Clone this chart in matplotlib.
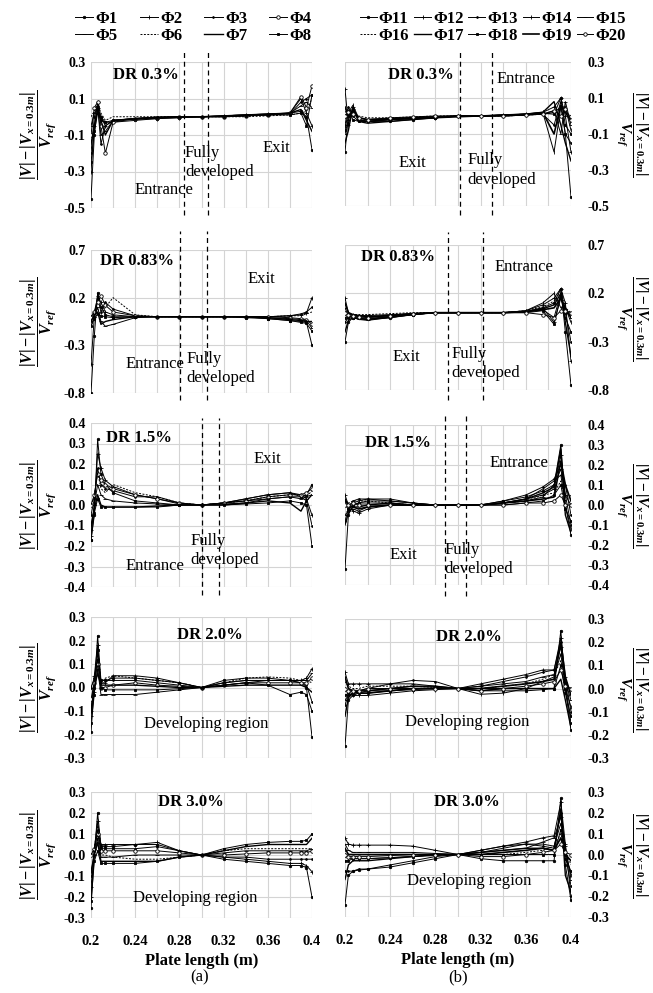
import matplotlib
matplotlib.use("Agg")
import matplotlib.pyplot as plt
from matplotlib.ticker import FixedLocator, FormatStrFormatter

plt.rcParams["font.family"] = ["Liberation Serif", "DejaVu Serif"]
plt.rcParams["axes.unicode_minus"] = False
plt.rcParams["mathtext.fontset"] = "custom"
plt.rcParams["mathtext.rm"] = "Liberation Serif:bold"
plt.rcParams["mathtext.it"] = "Liberation Serif:italic:bold"
plt.rcParams["mathtext.bf"] = "Liberation Serif:bold"

# ---------------------------------------------------------------- data
# sampling positions along the plate (m)
x_left = [0.200, 0.203, 0.206, 0.209, 0.213, 0.220, 0.240, 0.260, 0.280,
          0.300, 0.320, 0.340, 0.360, 0.380, 0.390, 0.395, 0.400]
x_right = [0.200, 0.203, 0.207, 0.212, 0.220, 0.240, 0.260, 0.280, 0.300,
           0.320, 0.340, 0.360, 0.375, 0.385, 0.391, 0.395, 0.400]

labels_left = ["Φ1", "Φ2", "Φ3", "Φ4", "Φ5", "Φ6", "Φ7", "Φ8"]
labels_right = ["Φ11", "Φ12", "Φ13", "Φ14", "Φ15",
                "Φ16", "Φ17", "Φ18", "Φ19", "Φ20"]
dr_labels = ["DR 0.3%", "DR 0.83%", "DR 1.5%", "DR 2.0%", "DR 3.0%"]

# (|V| - |V_x=0.3m|) / V_ref, left column (Φ1..Φ8)
left_dr03 = [
    [-0.45, -0.10, 0.05, -0.02, -0.03, -0.03, -0.02, -0.01, -0.005, 0.0, 0.005, 0.01, 0.015, 0.02, 0.03, 0.00, -0.18],
    [-0.30, -0.05, 0.08, 0.00, -0.05, -0.02, -0.015, -0.01, -0.005, 0.0, 0.005, 0.01, 0.015, 0.02, 0.10, 0.02, -0.05],
    [-0.20, 0.00, 0.06, -0.15, -0.05, -0.02, -0.01, -0.005, 0.0, 0.0, 0.0, 0.005, 0.01, 0.015, 0.08, 0.10, 0.12],
    [-0.10, 0.05, 0.08, -0.05, -0.20, -0.03, -0.01, -0.005, 0.0, 0.0, 0.0, 0.005, 0.01, 0.02, 0.11, 0.05, 0.17],
    [-0.05, 0.02, 0.05, -0.10, -0.08, -0.02, -0.01, 0.0, 0.0, 0.0, 0.005, 0.01, 0.01, 0.02, 0.06, 0.08, 0.05],
    [0.00, 0.03, 0.07, 0.02, -0.02, 0.00, 0.00, 0.0, 0.0, 0.0, 0.0, 0.0, 0.005, 0.01, 0.02, 0.03, 0.10],
    [-0.15, -0.05, 0.04, -0.02, -0.10, -0.02, -0.01, -0.005, 0.0, 0.0, 0.005, 0.01, 0.015, 0.02, 0.04, -0.02, -0.08],
    [-0.25, -0.08, 0.02, 0.00, -0.03, -0.02, -0.01, -0.005, 0.0, 0.0, 0.0, 0.005, 0.01, 0.01, 0.02, -0.05, 0.12],
]
left_dr083 = [
    [-0.80, -0.20, 0.25, 0.10, 0.02, 0.00, 0.0, 0.0, 0.0, 0.0, 0.0, 0.0, -0.02, -0.04, -0.05, -0.06, -0.30],
    [-0.50, 0.00, 0.22, 0.15, 0.05, 0.02, 0.0, 0.0, 0.0, 0.0, 0.0, 0.0, 0.0, 0.01, 0.02, 0.04, 0.20],
    [-0.05, 0.05, 0.20, 0.05, 0.15, 0.08, 0.01, 0.0, 0.0, 0.0, 0.0, 0.0, 0.0, 0.01, 0.03, 0.05, 0.10],
    [0.00, 0.05, 0.15, 0.22, 0.12, 0.05, 0.01, 0.0, 0.0, 0.0, 0.0, 0.0, 0.0, -0.01, -0.02, -0.03, -0.08],
    [-0.10, 0.00, 0.10, -0.05, -0.10, -0.08, -0.01, 0.0, 0.0, 0.0, 0.0, 0.0, -0.01, -0.02, -0.03, -0.04, -0.12],
    [0.00, 0.05, 0.08, 0.02, 0.10, 0.20, 0.02, 0.0, 0.0, 0.0, 0.0, 0.0, 0.0, 0.01, 0.01, 0.03, 0.05],
    [-0.05, 0.02, 0.05, -0.08, -0.05, -0.03, 0.0, 0.0, 0.0, 0.0, 0.0, 0.0, -0.01, -0.03, -0.04, -0.05, -0.05],
    [-0.10, -0.02, 0.03, 0.01, 0.00, -0.01, 0.0, 0.0, 0.0, 0.0, 0.0, -0.01, -0.02, -0.04, -0.06, -0.07, -0.15],
]
left_dr15 = [
    [-0.17, -0.05, 0.32, 0.15, 0.10, 0.06, 0.02, 0.01, 0.0, 0.0, 0.01, 0.02, 0.03, 0.04, 0.04, 0.05, 0.10],
    [-0.12, 0.00, 0.25, 0.18, 0.12, 0.09, 0.05, 0.03, 0.005, 0.0, 0.01, 0.03, 0.05, 0.06, 0.05, 0.03, -0.05],
    [-0.05, 0.03, 0.18, 0.10, 0.08, 0.07, 0.04, 0.04, 0.01, 0.0, 0.01, 0.03, 0.05, 0.06, 0.04, 0.02, -0.10],
    [0.00, 0.05, 0.15, 0.12, 0.10, 0.08, 0.05, 0.03, 0.01, 0.0, 0.01, 0.02, 0.04, 0.05, 0.05, 0.06, 0.08],
    [-0.15, 0.00, 0.10, 0.05, 0.03, 0.02, 0.01, 0.005, 0.0, 0.0, 0.005, 0.01, 0.03, 0.04, 0.03, 0.04, 0.05],
    [0.00, 0.04, 0.16, 0.08, 0.06, 0.10, 0.06, 0.04, 0.01, 0.0, 0.01, 0.02, 0.04, 0.05, 0.05, 0.04, 0.07],
    [-0.10, -0.02, 0.05, 0.00, -0.01, -0.01, -0.01, -0.005, 0.0, 0.0, 0.0, 0.01, 0.02, 0.01, -0.03, 0.02, 0.05],
    [-0.17, -0.04, 0.03, -0.01, -0.01, -0.01, -0.01, -0.01, 0.0, 0.0, 0.0, 0.005, 0.01, 0.02, 0.01, 0.00, -0.20],
]
left_dr20 = [
    [-0.19, 0.00, 0.22, 0.03, 0.03, 0.04, 0.04, 0.03, 0.02, 0.0, 0.03, 0.04, 0.04, 0.03, 0.02, 0.00, -0.21],
    [-0.10, 0.05, 0.18, 0.02, 0.02, 0.05, 0.05, 0.04, 0.02, 0.0, 0.02, 0.03, 0.03, 0.03, 0.03, 0.04, 0.08],
    [0.00, 0.04, 0.12, 0.03, 0.03, 0.03, 0.03, 0.02, 0.01, 0.0, 0.02, 0.03, 0.03, 0.03, 0.02, 0.01, -0.06],
    [-0.05, 0.02, 0.10, 0.00, 0.00, 0.01, 0.02, 0.01, 0.005, 0.0, 0.01, 0.02, 0.02, 0.02, 0.02, 0.02, 0.04],
    [-0.12, -0.02, 0.08, -0.03, -0.03, -0.03, -0.03, -0.02, -0.01, 0.0, 0.01, 0.02, 0.03, 0.03, 0.03, 0.03, 0.06],
    [0.00, 0.03, 0.14, 0.02, 0.04, 0.05, 0.04, 0.03, 0.02, 0.0, 0.02, 0.04, 0.045, 0.04, 0.03, 0.03, 0.02],
    [-0.10, 0.00, 0.06, 0.01, 0.01, 0.01, 0.01, 0.005, 0.0, 0.0, 0.005, 0.01, 0.01, 0.01, 0.01, 0.00, -0.02],
    [-0.15, -0.03, 0.16, 0.00, -0.01, -0.01, -0.01, -0.01, -0.005, 0.0, 0.01, 0.02, 0.01, -0.03, -0.02, -0.03, -0.10],
]
left_dr30 = [
    [-0.25, 0.00, 0.20, 0.04, 0.04, 0.04, 0.05, 0.05, 0.02, 0.0, -0.02, -0.03, -0.04, -0.05, -0.05, -0.06, -0.20],
    [-0.20, 0.03, 0.16, 0.05, 0.05, 0.05, 0.05, 0.06, 0.02, 0.0, -0.01, -0.02, -0.03, -0.04, -0.04, -0.05, -0.08],
    [-0.10, 0.02, 0.12, 0.03, 0.03, 0.03, 0.03, 0.04, 0.02, 0.0, -0.01, -0.01, -0.02, -0.02, -0.02, -0.02, -0.02],
    [0.00, 0.03, 0.10, 0.02, 0.02, 0.02, 0.02, 0.02, 0.01, 0.0, 0.00, 0.005, 0.01, 0.01, 0.01, 0.01, 0.02],
    [-0.15, 0.00, 0.08, -0.01, -0.01, -0.01, 0.00, 0.00, 0.00, 0.0, 0.01, 0.02, 0.02, 0.02, 0.02, 0.02, 0.03],
    [0.00, 0.03, 0.14, 0.00, 0.00, -0.01, -0.02, -0.02, -0.01, 0.0, 0.02, 0.03, 0.03, 0.03, 0.03, 0.03, 0.03],
    [-0.08, 0.00, 0.06, -0.03, -0.03, -0.03, -0.03, -0.03, -0.01, 0.0, 0.02, 0.04, 0.05, 0.05, 0.05, 0.05, 0.08],
    [-0.22, -0.03, 0.02, -0.04, -0.04, -0.04, -0.04, -0.03, -0.01, 0.0, 0.03, 0.05, 0.06, 0.065, 0.065, 0.07, 0.10],
]

# right column (Φ11..Φ20)
right_dr03 = [
    [-0.20, 0.00, 0.03, -0.02, -0.03, -0.03, -0.02, -0.01, 0.0, 0.0, 0.005, 0.01, 0.01, 0.02, 0.05, -0.10, -0.45],
    [0.15, -0.05, 0.05, -0.02, -0.03, -0.02, -0.015, -0.01, 0.0, 0.0, 0.005, 0.01, 0.02, 0.05, 0.10, 0.00, -0.20],
    [-0.05, 0.05, 0.00, -0.03, -0.03, -0.02, -0.01, -0.005, 0.0, 0.0, 0.0, 0.005, 0.01, -0.05, 0.08, -0.10, -0.15],
    [0.00, 0.02, 0.06, -0.01, -0.02, -0.02, -0.01, -0.005, 0.0, 0.0, 0.0, 0.005, 0.02, -0.20, 0.05, 0.05, -0.08],
    [-0.10, -0.02, 0.04, -0.02, -0.03, -0.02, -0.015, -0.01, 0.0, 0.0, 0.005, 0.01, 0.01, 0.03, -0.10, 0.08, -0.05],
    [0.02, 0.04, 0.02, 0.00, -0.01, -0.01, -0.005, 0.0, 0.0, 0.0, 0.0, 0.005, 0.01, 0.02, 0.04, 0.02, 0.00],
    [-0.15, -0.08, 0.05, -0.03, -0.04, -0.03, -0.02, -0.01, -0.005, 0.0, 0.005, 0.01, 0.02, 0.08, -0.05, -0.15, -0.25],
    [-0.08, 0.03, -0.02, -0.03, -0.03, -0.02, -0.015, -0.01, 0.0, 0.0, 0.005, 0.01, 0.015, 0.01, 0.10, -0.05, -0.10],
    [0.05, 0.00, 0.03, -0.01, -0.02, -0.015, -0.01, -0.005, 0.0, 0.0, 0.005, 0.01, 0.02, -0.10, 0.06, 0.02, -0.03],
    [0.00, 0.02, 0.01, -0.01, -0.02, -0.01, -0.005, 0.0, 0.0, 0.0, 0.0, 0.005, 0.01, 0.03, 0.00, 0.04, -0.02],
]
right_dr083 = [
    [-0.30, -0.10, -0.05, -0.06, -0.07, -0.05, -0.02, 0.0, 0.0, 0.0, 0.0, 0.01, 0.05, 0.10, 0.25, -0.20, -0.75],
    [0.15, 0.00, -0.03, -0.04, -0.05, -0.03, -0.01, 0.0, 0.0, 0.0, 0.0, 0.02, 0.08, 0.15, 0.25, 0.10, -0.50],
    [-0.10, -0.05, -0.04, -0.05, -0.06, -0.04, -0.02, 0.0, 0.0, 0.0, 0.0, 0.01, 0.03, -0.05, 0.20, 0.00, -0.30],
    [0.00, -0.02, -0.02, -0.03, -0.03, -0.02, -0.01, 0.0, 0.0, 0.0, 0.0, 0.02, 0.10, 0.20, 0.05, 0.05, -0.10],
    [0.05, -0.03, -0.05, -0.07, -0.08, -0.05, -0.02, 0.0, 0.0, 0.0, 0.0, 0.01, 0.05, -0.10, 0.15, 0.02, -0.05],
    [0.00, -0.01, -0.02, -0.02, -0.02, -0.01, 0.0, 0.0, 0.0, 0.0, 0.0, 0.02, 0.06, 0.12, 0.22, 0.05, 0.00],
    [-0.20, -0.08, -0.05, -0.06, -0.07, -0.05, -0.02, 0.0, 0.0, 0.0, 0.0, 0.01, 0.04, 0.08, 0.20, -0.10, -0.45],
    [-0.05, -0.04, -0.05, -0.06, -0.07, -0.04, -0.02, 0.0, 0.0, 0.0, 0.0, 0.0, 0.02, -0.12, 0.18, -0.05, -0.20],
    [0.10, 0.00, -0.02, -0.03, -0.04, -0.03, -0.01, 0.0, 0.0, 0.0, 0.0, 0.01, 0.03, 0.05, 0.15, 0.05, -0.05],
    [0.00, -0.02, -0.03, -0.04, -0.05, -0.03, -0.01, 0.0, 0.0, 0.0, 0.0, 0.0, -0.02, -0.05, 0.02, 0.02, 0.00],
]
right_dr15 = [
    [-0.32, -0.05, 0.00, 0.01, 0.02, 0.02, 0.01, 0.0, 0.0, 0.0, 0.02, 0.04, 0.07, 0.10, 0.30, 0.00, -0.15],
    [0.05, 0.00, -0.03, -0.04, -0.02, 0.00, 0.00, 0.0, 0.0, 0.0, 0.01, 0.03, 0.05, 0.08, 0.25, 0.05, -0.10],
    [-0.08, -0.02, 0.02, 0.03, 0.03, 0.03, 0.01, 0.0, 0.0, 0.0, 0.02, 0.05, 0.09, 0.13, 0.20, 0.10, -0.05],
    [0.02, 0.00, 0.01, 0.02, 0.03, 0.02, 0.01, 0.0, 0.0, 0.0, 0.01, 0.03, 0.08, 0.12, 0.15, 0.00, -0.12],
    [-0.05, -0.03, -0.02, -0.03, -0.01, 0.00, 0.00, 0.0, 0.0, 0.0, 0.01, 0.02, 0.04, 0.10, 0.18, 0.05, 0.00],
    [0.00, 0.01, 0.02, 0.02, 0.02, 0.01, 0.00, 0.0, 0.0, 0.0, 0.01, 0.02, 0.05, 0.06, 0.12, 0.02, 0.05],
    [-0.10, -0.04, -0.01, -0.01, 0.00, 0.01, 0.00, 0.0, 0.0, 0.0, 0.01, 0.03, 0.06, 0.09, 0.28, -0.05, -0.14],
    [0.00, -0.02, 0.00, 0.01, 0.01, 0.01, 0.00, 0.0, 0.0, 0.0, 0.00, 0.01, 0.02, 0.05, 0.10, -0.02, -0.08],
    [0.03, 0.00, -0.01, -0.02, -0.01, 0.00, 0.00, 0.0, 0.0, 0.0, 0.01, 0.02, 0.03, 0.04, 0.22, 0.10, 0.02],
    [0.00, 0.00, 0.01, 0.00, 0.00, 0.00, 0.00, 0.0, 0.0, 0.0, 0.00, 0.01, 0.01, 0.02, 0.05, 0.00, 0.00],
]
right_dr20 = [
    [-0.25, -0.05, -0.03, -0.02, -0.02, -0.01, 0.00, 0.00, 0.0, 0.00, 0.00, 0.00, 0.00, 0.00, 0.25, 0.00, -0.18],
    [0.07, 0.02, 0.02, 0.02, 0.02, 0.02, 0.02, 0.01, 0.0, 0.02, 0.04, 0.06, 0.08, 0.08, 0.22, 0.05, -0.10],
    [-0.07, -0.03, -0.02, -0.01, 0.00, 0.02, 0.035, 0.03, 0.0, 0.01, 0.03, 0.05, 0.07, 0.08, 0.20, 0.02, -0.15],
    [0.00, -0.02, -0.03, -0.03, -0.03, -0.02, -0.01, -0.005, 0.0, -0.025, -0.02, 0.00, 0.03, 0.05, 0.15, 0.00, -0.08],
    [-0.05, -0.03, -0.02, -0.02, -0.01, 0.00, 0.01, 0.005, 0.0, 0.01, 0.02, 0.03, 0.05, 0.06, 0.18, 0.03, -0.05],
    [0.03, 0.01, 0.00, 0.00, 0.01, 0.01, 0.01, 0.005, 0.0, 0.00, 0.01, 0.02, 0.04, 0.06, 0.12, 0.02, 0.00],
    [-0.12, -0.04, -0.02, -0.01, -0.01, 0.00, 0.01, 0.01, 0.0, -0.01, 0.00, 0.00, 0.00, 0.00, 0.04, -0.05, -0.17],
    [-0.03, -0.02, -0.01, -0.01, -0.01, -0.01, -0.005, 0.00, 0.0, -0.01, -0.01, -0.01, -0.005, 0.00, 0.10, -0.02, -0.12],
    [0.05, 0.00, -0.01, -0.02, -0.02, -0.01, 0.00, 0.00, 0.0, 0.00, 0.01, 0.02, 0.03, 0.04, 0.20, 0.05, -0.03],
    [0.00, -0.01, -0.01, -0.01, 0.00, 0.00, 0.00, 0.00, 0.0, -0.01, 0.00, 0.01, 0.02, 0.03, 0.08, 0.01, 0.00],
]
right_dr30 = [
    [-0.24, -0.10, -0.08, -0.075, -0.07, -0.06, -0.04, -0.02, 0.0, -0.02, -0.03, -0.03, -0.03, -0.03, 0.27, -0.05, -0.22],
    [0.08, 0.05, 0.045, 0.045, 0.045, 0.045, 0.04, 0.02, 0.0, 0.02, 0.04, 0.06, 0.08, 0.09, 0.25, 0.05, -0.20],
    [-0.08, -0.08, -0.08, -0.07, -0.07, -0.05, -0.03, -0.01, 0.0, 0.02, 0.04, 0.05, 0.04, 0.03, 0.20, 0.00, -0.15],
    [0.00, -0.02, -0.02, -0.02, -0.02, -0.015, -0.01, -0.005, 0.0, 0.01, 0.03, 0.05, 0.05, 0.04, 0.15, 0.02, -0.10],
    [0.05, 0.02, 0.01, 0.01, 0.01, 0.01, 0.01, 0.005, 0.0, 0.01, 0.02, 0.03, 0.06, 0.08, 0.18, 0.04, -0.12],
    [0.02, 0.00, 0.00, 0.00, 0.00, 0.00, 0.00, 0.00, 0.0, 0.00, 0.00, 0.01, 0.02, 0.04, 0.10, 0.02, -0.05],
    [-0.12, -0.05, -0.03, -0.03, -0.03, -0.02, -0.01, 0.00, 0.0, 0.01, 0.02, 0.03, 0.03, 0.02, 0.22, -0.10, -0.18],
    [-0.03, -0.03, -0.02, -0.02, -0.02, -0.015, -0.01, 0.00, 0.0, 0.00, 0.00, 0.00, 0.00, 0.00, 0.12, -0.02, -0.08],
    [0.03, 0.00, 0.00, 0.00, 0.00, 0.00, 0.00, 0.00, 0.0, 0.00, 0.01, 0.02, 0.03, 0.02, 0.08, 0.00, -0.03],
    [0.00, -0.01, -0.01, -0.01, -0.01, -0.005, 0.00, 0.00, 0.0, -0.01, -0.01, 0.00, 0.01, 0.02, 0.05, 0.01, 0.00],
]

# y tick values of each row
row_yticks = [
    [-0.5, -0.3, -0.1, 0.1, 0.3],
    [-0.8, -0.3, 0.2, 0.7],
    [-0.4, -0.3, -0.2, -0.1, 0.0, 0.1, 0.2, 0.3, 0.4],
    [-0.3, -0.2, -0.1, 0.0, 0.1, 0.2, 0.3],
    [-0.3, -0.2, -0.1, 0.0, 0.1, 0.2, 0.3],
]
x_ticks = [0.20, 0.22, 0.24, 0.26, 0.28, 0.30, 0.32, 0.34, 0.36, 0.38, 0.40]
x_ticklabels = ["0.2", "", "0.24", "", "0.28", "", "0.32", "", "0.36", "", "0.4"]

# bounds of the fully developed region (m), first three rows
fully_left = [(0.284, 0.306), (0.2805, 0.305), (0.300, 0.316)]
fully_right = [(0.302, 0.330), (0.291, 0.322), (0.2885, 0.307)]

# ---------------------------------------------------------------- styles
style_left = [
    dict(ls="-", marker=".", ms=3.5),
    dict(ls="-", marker="+", ms=3),
    dict(ls="-", marker=".", ms=2.5),
    dict(ls="-", marker="o", ms=2.5, mfc="white"),
    dict(ls="-", marker="_", ms=3),
    dict(ls=(0, (2, 1.5)), marker=None),
    dict(ls="-", marker=None, lw=1.0),
    dict(ls="-", marker="s", ms=2),
]
style_right = [
    dict(ls="-", marker=".", ms=3.5),
    dict(ls="-", marker="+", ms=3),
    dict(ls="-", marker=".", ms=2.5),
    dict(ls="-", marker="|", ms=2.5),
    dict(ls="-", marker="_", ms=3),
    dict(ls=(0, (2, 1.5)), marker=None),
    dict(ls="-", marker=None, lw=1.0),
    dict(ls="-", marker="s", ms=2),
    dict(ls="-", marker=None, lw=1.2),
    dict(ls="-", marker="o", ms=2.5, mfc="white"),
]

W, H = 653, 993
fig = plt.figure(figsize=(W / 100, H / 100), dpi=100)

# pixel boxes of the panels (top, bottom)
rows_left = [(62, 208), (250, 393), (423, 587), (617, 758), (792, 918)]
rows_right = [(62, 206), (245, 390), (425, 585), (619, 758), (792, 917)]
col_left = (91, 312)
col_right = (345, 571)

# text annotations in axes fraction: (text, x, y, ha, bold)
notes_left = [
    [("DR 0.3%", 0.10, 0.91, "left", True), ("Exit", 0.84, 0.41, "center", False),
     ("Entrance", 0.33, 0.12, "center", False), ("Fully\ndeveloped", 0.425, 0.31, "left", False)],
    [("DR 0.83%", 0.04, 0.92, "left", True), ("Exit", 0.77, 0.80, "center", False),
     ("Entrance", 0.29, 0.20, "center", False), ("Fully\ndeveloped", 0.43, 0.17, "left", False)],
    [("DR 1.5%", 0.07, 0.91, "left", True), ("Exit", 0.80, 0.78, "center", False),
     ("Entrance", 0.29, 0.13, "center", False), ("Fully\ndeveloped", 0.45, 0.22, "left", False)],
    [("DR 2.0%", 0.54, 0.87, "center", True), ("Developing region", 0.52, 0.24, "center", False)],
    [("DR 3.0%", 0.45, 0.92, "center", True), ("Developing region", 0.47, 0.16, "center", False)],
]
notes_right = [
    [("DR 0.3%", 0.19, 0.91, "left", True), ("Entrance", 0.80, 0.88, "center", False),
     ("Exit", 0.30, 0.30, "center", False), ("Fully\ndeveloped", 0.54, 0.25, "left", False)],
    [("DR 0.83%", 0.07, 0.92, "left", True), ("Entrance", 0.79, 0.85, "center", False),
     ("Exit", 0.27, 0.23, "center", False), ("Fully\ndeveloped", 0.47, 0.18, "left", False)],
    [("DR 1.5%", 0.09, 0.89, "left", True), ("Entrance", 0.77, 0.76, "center", False),
     ("Exit", 0.26, 0.19, "center", False), ("Fully\ndeveloped", 0.44, 0.16, "left", False)],
    [("DR 2.0%", 0.55, 0.87, "center", True), ("Developing region", 0.54, 0.26, "center", False)],
    [("DR 3.0%", 0.54, 0.92, "center", True), ("Developing region", 0.55, 0.29, "center", False)],
]
dash_ext_left = [(-0.05, 1.08), (-0.05, 1.13), (-0.05, 1.03)]
dash_ext_right = [(-0.06, 1.07), (-0.07, 1.09), (-0.07, 1.06)]

ylabel = r"$\dfrac{|V| - |V_{x=0.3m}|}{V_{ref}}$"
grid_col = "#d4d4d4"


def make_axes(col, row):
    x0, x1 = col
    top, bottom = row
    return fig.add_axes([x0 / W, 1 - bottom / H, (x1 - x0) / W, (bottom - top) / H])


def draw_panel(ax, xs, series, styles, yticks, side, notes, fully, ext, last):
    for ys, st in zip(series, styles):
        st = dict(st)
        lw = st.pop("lw", 0.7)
        ax.plot(xs, ys, color="black", lw=lw, mec="black", mew=0.6, **st)
    ax.set_xlim(0.2, 0.4)
    ax.set_ylim(yticks[0], yticks[-1])
    ax.xaxis.set_major_locator(FixedLocator(x_ticks))
    ax.yaxis.set_major_locator(FixedLocator(yticks))
    ax.yaxis.set_major_formatter(FormatStrFormatter("%.1f"))
    ax.grid(True, color=grid_col, lw=0.8)
    ax.set_axisbelow(True)
    for sp in ax.spines.values():
        sp.set_visible(False)
    ax.tick_params(length=0, labelsize=10)
    if last:
        ax.set_xticklabels(x_ticklabels, fontweight="bold", fontsize=10.5)
        ax.tick_params(axis="x", pad=12)
        ax.set_xlabel("Plate length (m)", fontweight="bold", fontsize=12, labelpad=4)
    else:
        ax.set_xticklabels([])
    if side == "right":
        ax.yaxis.tick_right()
        ax.tick_params(axis="y", pad=12)
        ax.set_ylabel(ylabel, fontsize=11, rotation=-90)
        ax.yaxis.set_label_position("right")
        ax.yaxis.set_label_coords(1.27, 0.5)
    else:
        ax.tick_params(axis="y", pad=4)
        ax.set_ylabel(ylabel, fontsize=11.5)
        ax.yaxis.set_label_coords(-0.24, 0.5)
    ax.yaxis.label.set_verticalalignment("center")
    ax.yaxis.label.set_horizontalalignment("center")
    for t in ax.yaxis.get_major_ticks():
        t.label1.set_fontweight("bold")
        t.label2.set_fontweight("bold")
    for txt, tx, ty, ha, bold in notes:
        ax.text(tx, ty, txt, transform=ax.transAxes, ha=ha, va="center",
                fontsize=12, fontweight="bold" if bold else "normal",
                linespacing=1.25)
    if fully is not None:
        for xv in fully:
            ax.axvline(xv, ymin=ext[0], ymax=ext[1], color="black", lw=0.9,
                       ls=(0, (4, 3)), clip_on=False)


left_data = [left_dr03, left_dr083, left_dr15, left_dr20, left_dr30]
right_data = [right_dr03, right_dr083, right_dr15, right_dr20, right_dr30]
axes_left, axes_right = [], []
for i in range(5):
    last = i == 4
    axl = make_axes(col_left, rows_left[i])
    draw_panel(axl, x_left, left_data[i], style_left, row_yticks[i], "left",
               notes_left[i], fully_left[i] if i < 3 else None,
               dash_ext_left[i] if i < 3 else None, last)
    axes_left.append(axl)
    axr = make_axes(col_right, rows_right[i])
    draw_panel(axr, x_right, right_data[i], style_right, row_yticks[i], "right",
               notes_right[i], fully_right[i] if i < 3 else None,
               dash_ext_right[i] if i < 3 else None, last)
    axes_right.append(axr)


def row_major(items, ncol):
    nrow = (len(items) + ncol - 1) // ncol
    return [items[r * ncol + c] for c in range(ncol) for r in range(nrow)]


hl = axes_left[0].get_lines()[:8]
hr = axes_right[0].get_lines()[:10]
fig.legend(row_major(hl, 4), row_major(labels_left, 4), ncol=4,
           loc="center", bbox_to_anchor=(0.296, 0.9725), frameon=False,
           prop=dict(weight="bold", size=12), handlelength=1.1,
           handletextpad=0.15, columnspacing=1.3, labelspacing=0.05,
           numpoints=1, borderpad=0)
fig.legend(row_major(hr, 5), row_major(labels_right, 5), ncol=5,
           loc="center", bbox_to_anchor=(0.755, 0.9725), frameon=False,
           prop=dict(weight="bold", size=12), handlelength=1.0,
           handletextpad=0.12, columnspacing=0.3, labelspacing=0.05,
           numpoints=1, borderpad=0)

fig.text(200 / W, 1 - 977 / H, "(a)", ha="center", va="center", fontsize=12)
fig.text(458 / W, 1 - 977 / H, "(b)", ha="center", va="center", fontsize=12)

fig.savefig("out.png", dpi=100, facecolor="white")
